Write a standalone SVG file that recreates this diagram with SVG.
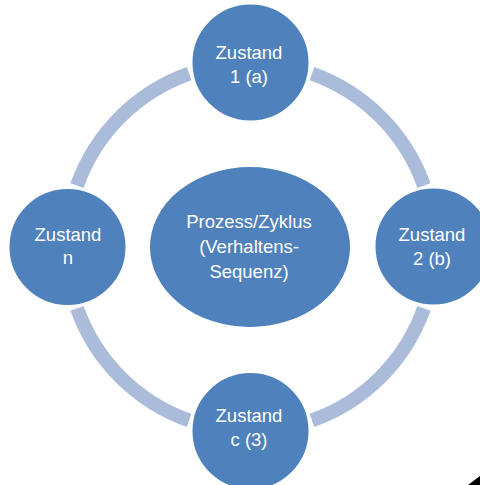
<svg xmlns="http://www.w3.org/2000/svg" width="480" height="485" viewBox="0 0 480 485">
<style>
.ring{fill:none;stroke:#abbcdb;stroke-width:14;stroke-linecap:butt}
.node{fill:#4f81bd;stroke:#ffffff;stroke-width:2}
.lbl{font-family:"Liberation Sans",Arial,sans-serif;font-size:18.5px;fill:#ffffff;text-anchor:middle}
</style>
<rect width="480" height="485" fill="#ffffff"/>
<g id="connectors">
<path class="ring" d="M423.94 308.42 A184 184 0 0 1 311.92 420.44"/>
<path class="ring" d="M189.08 420.44 A184 184 0 0 1 77.06 308.42"/>
<path class="ring" d="M77.06 185.58 A184 184 0 0 1 189.08 73.56"/>
<path class="ring" d="M311.92 73.56 A184 184 0 0 1 423.94 185.58"/>
</g>
<g id="center">
<ellipse class="node" cx="250" cy="247" rx="101" ry="81"/>
<text class="lbl" x="249" y="228">Prozess/Zyklus</text>
<text class="lbl" x="249" y="253">(Verhaltens-</text>
<text class="lbl" x="249" y="278">Sequenz)</text>
</g>
<g id="node-top">
<circle class="node" cx="250.5" cy="62.5" r="59"/>
<text class="lbl" x="249" y="59">Zustand</text>
<text class="lbl" x="249" y="83">1 (a)</text>
</g>
<g id="node-right">
<circle class="node" cx="433.5" cy="246.5" r="59"/>
<text class="lbl" x="432" y="241">Zustand</text>
<text class="lbl" x="432" y="265">2 (b)</text>
</g>
<g id="node-bottom">
<circle class="node" cx="250.5" cy="431" r="59"/>
<text class="lbl" x="249" y="422">Zustand</text>
<text class="lbl" x="249" y="446">c (3)</text>
</g>
<g id="node-left">
<circle class="node" cx="67.5" cy="247" r="59"/>
<text class="lbl" x="68" y="241">Zustand</text>
<text class="lbl" x="68" y="264">n</text>
</g>
<polygon points="468,485 480,476 480,485" fill="#000000"/>
</svg>
